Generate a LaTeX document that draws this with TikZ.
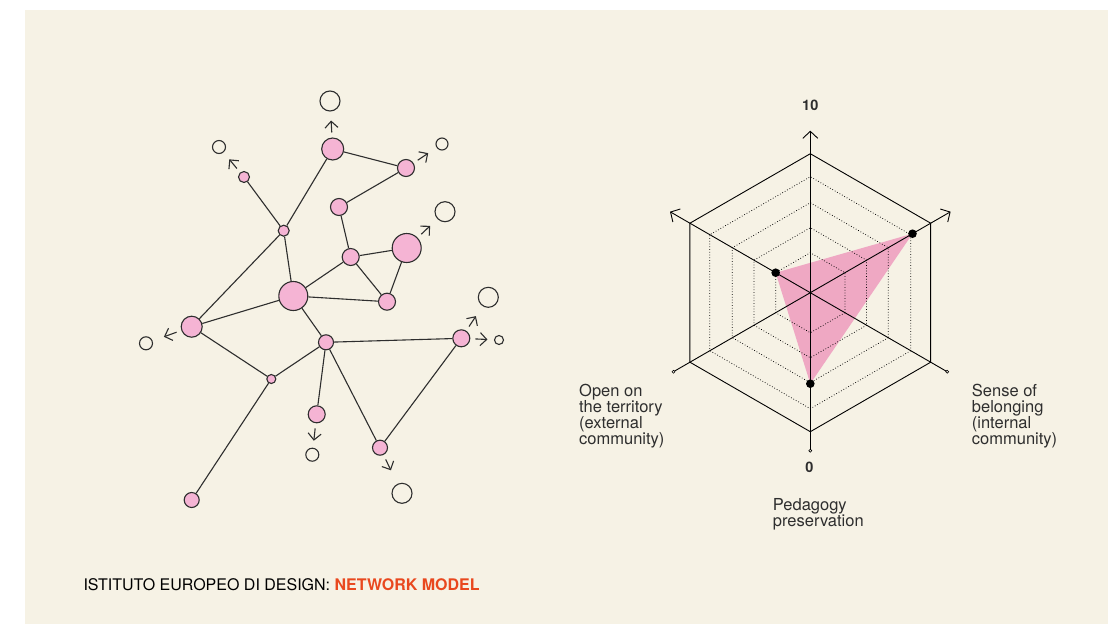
\documentclass[tikz,border=0pt]{standalone}
\usepackage{fontspec}
\setmainfont{TeX Gyre Heros}
\usetikzlibrary{arrows.meta}
\definecolor{paper}{HTML}{F6F2E5}
\definecolor{inkline}{HTML}{2E2E2E}
\definecolor{nodepink}{HTML}{F5B4D4}
\definecolor{radarpink}{HTML}{EFA8C3}
\definecolor{iedorange}{HTML}{E9481E}

\begin{document}
\begin{tikzpicture}[
  x=1pt,
  y=-1pt,
  every node/.style={font=\fontsize{16.5}{16}\selectfont, text=inkline},
  member/.style={circle, draw=inkline, fill=nodepink, line width=1.1pt, inner sep=0pt},
  outside/.style={circle, draw=inkline, line width=1.1pt, inner sep=0pt},
  link/.style={inkline, line width=1.1pt},
  flow/.style={inkline, line width=1.1pt, shorten <=5pt,
    -{Straight Barb[length=6.5pt, width=13pt]}},
  spoke/.style={black, line width=0.9pt},
  rim/.style={black, line width=0.9pt},
  ring/.style={black, line width=0.75pt, dotted},
  caption/.style={align=left, anchor=north west, inner sep=0pt}
]

  %% ---- fondo ----------------------------------------------------------
  \useasboundingbox (0,0) rectangle (1113,624);
  \fill[paper] (25,10) rectangle (1108,624);

  %% ---- rete: nodi interni ---------------------------------------------
  \node[member, minimum size=22pt] (ptop)   at (332.7,149)   {};
  \node[member, minimum size=11pt] (pleft)  at (244,177)     {};
  \node[member, minimum size=11pt] (pjoin)  at (283.7,230.7) {};
  \node[member, minimum size=17pt] (pnear)  at (406,168)     {};
  \node[member, minimum size=17pt] (pmid)   at (339,207)     {};
  \node[member, minimum size=17pt] (pcore)  at (350.7,257)   {};
  \node[member, minimum size=29pt] (pbig)   at (406.7,248)   {};
  \node[member, minimum size=17pt] (plow)   at (387,301.7)   {};
  \node[member, minimum size=29pt] (phub)   at (293.3,296)   {};
  \node[member, minimum size=21pt] (pwest)  at (191.7,326.7) {};
  \node[member, minimum size=15pt] (pcross) at (326,342.3)   {};
  \node[member, minimum size=17pt] (peast)  at (461.3,338.3) {};
  \node[member, minimum size=9pt]  (plink)  at (271.3,379)   {};
  \node[member, minimum size=17pt] (pdrop)  at (316.7,414.3) {};
  \node[member, minimum size=15pt] (psouth) at (380,447.7)   {};
  \node[member, minimum size=15pt] (ptail)  at (191.7,500)   {};

  %% ---- rete: nodi esterni ---------------------------------------------
  \node[outside, minimum size=20pt] (otop)   at (330,101)   {};
  \node[outside, minimum size=13pt] (oleft)  at (219,147)   {};
  \node[outside, minimum size=12pt] (onear)  at (442,144)   {};
  \node[outside, minimum size=20pt] (obig)   at (445,211.7) {};
  \node[outside, minimum size=20pt] (oeast)  at (488.3,297.3) {};
  \node[outside, minimum size=9pt]  (oright) at (499,340)   {};
  \node[outside, minimum size=13pt] (owest)  at (146,343.3) {};
  \node[outside, minimum size=13pt] (odrop)  at (312.3,454.7) {};
  \node[outside, minimum size=20pt] (osouth) at (402,493.3) {};

  %% ---- collegamenti ---------------------------------------------------
  \foreach \a/\b in {pjoin/ptop, pjoin/pleft, pjoin/pwest, pjoin/phub,
                     ptop/pnear, pnear/pmid, pmid/pcore, pcore/pbig,
                     pcore/phub, pcore/plow, pbig/plow, phub/plow,
                     phub/pwest, phub/pcross, pwest/plink, plink/pcross,
                     plink/ptail, pcross/peast, pcross/pdrop, pcross/psouth,
                     psouth/peast}
    \draw[link] (\a) -- (\b);

  %% ---- frecce verso l'esterno -----------------------------------------
  \draw[flow, shorten >=9pt]  (ptop)   -- (otop);
  \draw[flow, shorten >=9pt]  (pleft)  -- (oleft);
  \draw[flow, shorten >=10pt] (pnear)  -- (onear);
  \draw[flow, shorten >=10pt] (pbig)   -- (obig);
  \draw[flow, shorten >=12pt] (peast)  -- (oeast);
  \draw[flow, shorten >=6.5pt] (peast) -- (oright);
  \draw[flow, shorten >=12pt] (pwest)  -- (owest);
  \draw[flow, shorten >=7pt]  (pdrop)  -- (odrop);
  \draw[flow, shorten >=15pt] (psouth) -- (osouth);

  %% ---- radar ----------------------------------------------------------
  \begin{scope}[shift={(810.3,292.7)}]
    \coordinate (center) at (0,0);
    \coordinate (dotbelong) at (-30:118);
    \coordinate (dotopen)   at (210:40);
    \coordinate (dotpeda)   at (90:91);

    \fill[radarpink] (dotbelong) -- (dotopen) -- (dotpeda) -- cycle;

    \foreach \r in {40,65,90,116}
      \draw[ring] (30:\r) -- (90:\r) -- (150:\r) -- (210:\r)
        -- (270:\r) -- (330:\r) -- cycle;
    \draw[rim] (30:139) -- (90:139) -- (150:139) -- (210:139)
      -- (270:139) -- (330:139) -- cycle;

    \foreach \a in {90,30,150} {
      \coordinate (foot\a) at (\a:158);
      \coordinate (tip\a) at (\a+180:162);
      \draw[spoke, -{Straight Barb[length=7pt, width=15pt]}] (foot\a) -- (tip\a);
      \draw[spoke, fill=paper, line width=0.6pt] (foot\a) circle (1.5);
    }

    \foreach \d in {dotbelong, dotopen, dotpeda}
      \fill[black] (\d) circle (4.3);
  \end{scope}

  \node[font=\fontsize{14.5}{14}\selectfont\bfseries] (topval) at (810.3,105) {10};
  \node[font=\fontsize{14.5}{14}\selectfont\bfseries] (botval) at (809.5,467) {0};

  \node[caption] (lopen) at (579,384)
    {Open on\\the territory\\(external\\community)};
  \node[caption] (lbelong) at (971.7,384)
    {Sense of\\belonging\\(internal\\community)};
  \node[caption] (lpeda) at (772.7,498)
    {Pedagogy\\preservation};

  %% ---- titolo ---------------------------------------------------------
  \node[anchor=base west, inner sep=0pt, text=black,
        font=\fontsize{16}{16}\selectfont] (title) at (83.3,590)
    {ISTITUTO EUROPEO DI DESIGN: \textcolor{iedorange}{\bfseries NETWORK MODEL}};

\end{tikzpicture}
\end{document}
